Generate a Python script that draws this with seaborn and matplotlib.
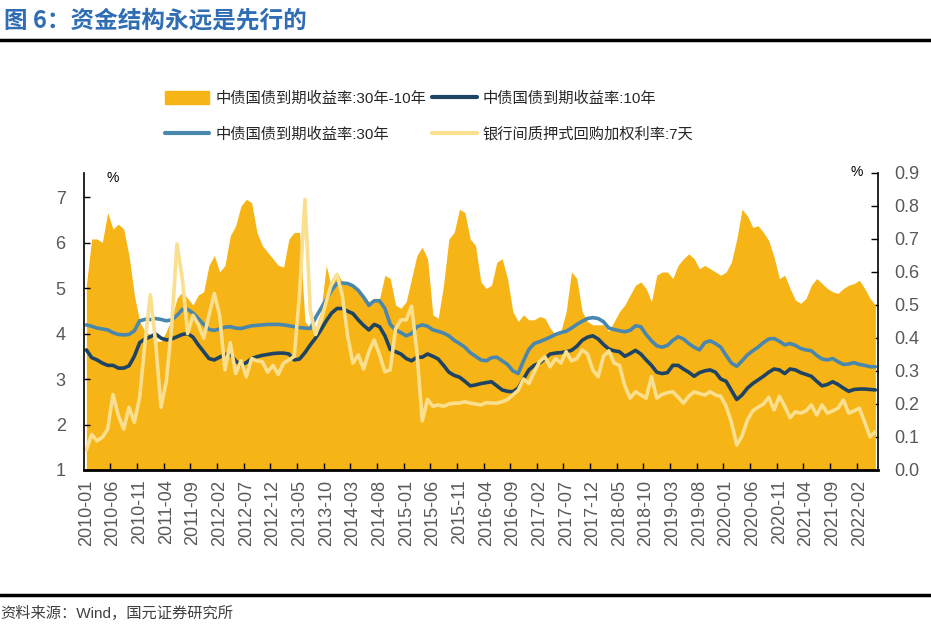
import numpy as np
import pandas as pd
import seaborn as sns
import matplotlib.pyplot as plt
from matplotlib.patches import Patch
from matplotlib.lines import Line2D
from matplotlib.ticker import FormatStrFormatter

# monthly data 2010-01 .. 2022-05
months = pd.date_range('2010-01-01', periods=149, freq='MS').strftime('%Y-%m').tolist()

spread_30_10 = [
    0.56, 0.70, 0.70, 0.69, 0.78, 0.73, 0.745, 0.73, 0.65, 0.53,
    0.45, 0.42, 0.41, 0.39, 0.39, 0.42, 0.46, 0.52, 0.54, 0.52,
    0.50, 0.53, 0.54, 0.62, 0.65, 0.60, 0.62, 0.71, 0.74, 0.80,
    0.82, 0.81, 0.72, 0.68, 0.66, 0.64, 0.62, 0.615, 0.70, 0.72,
    0.72, 0.45, 0.43, 0.43, 0.48, 0.62, 0.55, 0.60, 0.57, 0.56,
    0.56, 0.54, 0.53, 0.51, 0.52, 0.52, 0.59, 0.58, 0.50, 0.49,
    0.51, 0.58, 0.65, 0.675, 0.64, 0.47, 0.46, 0.56, 0.70, 0.72,
    0.79, 0.78, 0.70, 0.68, 0.57, 0.55, 0.56, 0.63, 0.64, 0.58,
    0.48, 0.45, 0.47, 0.455, 0.455, 0.465, 0.46, 0.43, 0.41, 0.42,
    0.48, 0.60, 0.58, 0.48, 0.45, 0.44, 0.44, 0.44, 0.42, 0.45,
    0.48, 0.50, 0.53, 0.56, 0.57, 0.55, 0.51, 0.59, 0.60, 0.60,
    0.58, 0.62, 0.64, 0.655, 0.64, 0.61, 0.62, 0.61, 0.60, 0.59,
    0.60, 0.63, 0.70, 0.79, 0.77, 0.735, 0.74, 0.72, 0.695, 0.645,
    0.58, 0.59, 0.55, 0.515, 0.505, 0.52, 0.56, 0.58, 0.565, 0.55,
    0.54, 0.535, 0.55, 0.56, 0.565, 0.575, 0.55, 0.52, 0.50,
]

yield_10y = [
    3.64, 3.47, 3.42, 3.35, 3.30, 3.30, 3.24, 3.24, 3.29, 3.50,
    3.80, 3.88, 3.93, 3.99, 3.90, 3.86, 3.88, 3.93, 3.98, 4.00,
    3.92, 3.75, 3.60, 3.45, 3.42, 3.48, 3.54, 3.55, 3.40, 3.30,
    3.36, 3.45, 3.49, 3.52, 3.54, 3.56, 3.57, 3.57, 3.55, 3.42,
    3.44, 3.58, 3.75, 3.90, 4.08, 4.28, 4.45, 4.55, 4.55, 4.49,
    4.44, 4.30, 4.18, 4.08, 4.20, 4.15, 3.95, 3.65, 3.60, 3.55,
    3.45, 3.40, 3.48, 3.48, 3.55, 3.50, 3.44, 3.30, 3.15, 3.08,
    3.04, 2.95, 2.85, 2.87, 2.90, 2.92, 2.94, 2.85, 2.76, 2.73,
    2.72, 2.80, 3.00, 3.20, 3.30, 3.35, 3.45, 3.55, 3.57, 3.58,
    3.60, 3.63, 3.72, 3.85, 3.92, 3.95, 3.88, 3.76, 3.66, 3.62,
    3.60, 3.50, 3.56, 3.63, 3.55, 3.42, 3.30, 3.15, 3.12, 3.14,
    3.30, 3.30, 3.22, 3.15, 3.06, 3.14, 3.18, 3.20, 3.15, 3.00,
    2.95, 2.75, 2.55, 2.65, 2.80, 2.90, 2.98, 3.06, 3.15, 3.22,
    3.20, 3.12, 3.22, 3.20, 3.14, 3.10, 3.06, 2.95, 2.85, 2.88,
    2.94, 2.88, 2.80, 2.73, 2.77, 2.78, 2.78, 2.77, 2.76,
]

yield_30y = [
    4.19, 4.16, 4.12, 4.10, 4.08, 4.02, 3.98, 3.97, 3.98, 4.06,
    4.28, 4.31, 4.31, 4.33, 4.31, 4.28, 4.30, 4.40, 4.53, 4.53,
    4.45, 4.33, 4.20, 4.09, 4.07, 4.10, 4.14, 4.15, 4.12, 4.11,
    4.14, 4.17, 4.18, 4.19, 4.20, 4.20, 4.20, 4.19, 4.17, 4.15,
    4.13, 4.12, 4.11, 4.35, 4.55, 4.75, 4.95, 5.10, 5.11, 5.10,
    5.05, 4.95, 4.80, 4.62, 4.72, 4.72, 4.55, 4.20, 4.08, 4.02,
    3.95, 4.00, 4.15, 4.19, 4.16, 4.08, 4.05, 4.01, 3.95, 3.85,
    3.78, 3.70, 3.58, 3.50, 3.42, 3.40, 3.47, 3.48, 3.40, 3.32,
    3.18, 3.12, 3.40, 3.65, 3.78, 3.82, 3.87, 3.92, 3.98, 4.02,
    4.05, 4.12, 4.20, 4.27, 4.33, 4.35, 4.33, 4.26, 4.12, 4.09,
    4.06, 4.04, 4.07, 4.17, 4.15, 3.98, 3.84, 3.73, 3.70, 3.74,
    3.85, 3.93, 3.88, 3.78, 3.70, 3.64, 3.80, 3.84, 3.78, 3.70,
    3.52, 3.35, 3.28, 3.40, 3.53, 3.62, 3.70, 3.80, 3.88, 3.89,
    3.83, 3.75, 3.78, 3.74, 3.67, 3.64, 3.62, 3.52, 3.44, 3.42,
    3.45, 3.38, 3.32, 3.33, 3.36, 3.32, 3.30, 3.27, 3.27,
]

repo_7d = [
    1.44, 1.78, 1.64, 1.72, 1.90, 2.66, 2.20, 1.90, 2.38, 2.05,
    2.60, 3.80, 4.85, 3.80, 2.38, 2.95, 4.15, 5.97, 5.20, 4.00,
    4.40, 4.20, 3.90, 4.40, 4.88, 4.40, 3.20, 3.80, 3.12, 3.40,
    3.05, 3.45, 3.40, 3.38, 3.15, 3.30, 3.10, 3.35, 3.42, 3.50,
    4.90, 6.95, 4.50, 3.98, 4.28, 4.70, 5.10, 5.30, 4.85, 3.95,
    3.35, 3.53, 3.22, 3.60, 3.86, 3.53, 3.16, 3.20, 4.10, 4.30,
    4.30, 4.60, 3.60, 2.08, 2.55, 2.40, 2.43, 2.40, 2.45, 2.47,
    2.47, 2.50, 2.47, 2.45, 2.43, 2.48, 2.47, 2.47, 2.50, 2.55,
    2.65, 2.75, 3.00, 2.90, 3.15, 3.38, 3.49, 3.27, 3.45, 3.35,
    3.60, 3.40, 3.45, 3.64, 3.55, 3.20, 3.05, 3.50, 3.62, 3.35,
    3.30, 2.85, 2.58, 2.72, 2.65, 2.58, 3.05, 2.58, 2.66, 2.70,
    2.72, 2.60, 2.47, 2.62, 2.72, 2.68, 2.65, 2.72, 2.65, 2.62,
    2.40, 2.05, 1.55, 1.75, 2.10, 2.30, 2.38, 2.45, 2.60, 2.32,
    2.62, 2.40, 2.15, 2.28, 2.25, 2.30, 2.43, 2.21, 2.43, 2.25,
    2.30, 2.36, 2.54, 2.25, 2.30, 2.36, 2.05, 1.73, 1.84,
]

labels = ['中债国债到期收益率:30年-10年', '中债国债到期收益率:10年',
          '中债国债到期收益率:30年', '银行间质押式回购加权利率:7天']
c_area = '#F6B416'
c_10y = '#1F4463'
c_30y = '#4A87AE'
c_repo = '#F9DF8E'

sns.set_theme(style='white')
plt.rcParams['font.family'] = ['Liberation Sans', 'Noto Sans CJK SC', 'DejaVu Sans']

df = pd.DataFrame({'month': months, 'spread': spread_30_10, 'y10': yield_10y,
                   'y30': yield_30y, 'repo': repo_7d})
df['x'] = np.arange(len(df))

fig = plt.figure(figsize=(9.31, 6.29), dpi=100)
ax = fig.add_axes([0.0899, 0.2528, 0.8532, 0.4722])
ax2 = ax.twinx()

# spread on the right axis, behind the lines
ax2.fill_between(df.x, 0, df.spread, color=c_area, lw=0)
ax2.set_ylim(0, 0.9)
ax2.set_yticks(np.arange(0, 0.91, 0.1))
ax2.yaxis.set_major_formatter(FormatStrFormatter('%.1f'))

sns.lineplot(data=df, x='x', y='y10', ax=ax, color=c_10y, lw=2.6)
sns.lineplot(data=df, x='x', y='y30', ax=ax, color=c_30y, lw=2.6)
sns.lineplot(data=df, x='x', y='repo', ax=ax, color=c_repo, lw=2.6)

ax.set_zorder(ax2.get_zorder() + 1)
ax.patch.set_visible(False)

ax.set_xlim(-0.5, len(df) - 0.5)
ax.set_ylim(1, 7.53)
ax.set_yticks(range(1, 8))
ax.set_xlabel('')
ax.set_ylabel('')
ax2.set_ylabel('')

ax.set_xticks(df.x[::5])
ax.set_xticklabels(df.month[::5], rotation=90)
ax.set_xticks(np.arange(4.5, len(df) - 1, 5), minor=True)
ax.tick_params(axis='x', which='major', length=0, pad=7, labelsize=13, labelcolor='#595959')
ax.tick_params(axis='x', which='minor', direction='in', length=5, width=1, color='black', bottom=True)
ax.tick_params(axis='y', direction='in', length=4, width=1, color='black', left=True,
               labelsize=13, labelcolor='#595959', pad=13)
ax2.tick_params(axis='y', direction='in', length=5, width=1, color='black', right=True,
                labelsize=13, labelcolor='#595959', pad=12)

for s in ['top', 'right']:
    ax.spines[s].set_visible(False)
for s in ['top', 'left', 'bottom']:
    ax2.spines[s].set_visible(False)
ax.spines['left'].set_color('black')
ax.spines['left'].set_linewidth(1.2)
ax.spines['bottom'].set_color('black')
ax.spines['bottom'].set_linewidth(2)
ax2.spines['right'].set_color('black')
ax2.spines['right'].set_linewidth(1.2)

fig.text(113 / 931, 1 - 178 / 629, '%', fontsize=10, ha='center', va='center', color='black')
fig.text(857 / 931, 1 - 172 / 629, '%', fontsize=10, ha='center', va='center', color='black')

handles = [Patch(color=c_area), Line2D([], [], color=c_30y, lw=3),
           Line2D([], [], color=c_10y, lw=3), Line2D([], [], color=c_repo, lw=3)]
fig.legend(handles, [labels[0], labels[2], labels[1], labels[3]], ncol=2,
           loc='upper left', bbox_to_anchor=(165 / 931, 1 - 91 / 629),
           frameon=False, fontsize=11, handlelength=2.9, handleheight=0.9,
           labelspacing=1.4, columnspacing=0.4, handletextpad=0.4,
           borderpad=0, borderaxespad=0)

fig.text(0.004, 1 - 20 / 629, '图 6：资金结构永远是先行的', color='#2F6DB5', fontsize=17,
         fontweight='bold', va='center', family=['Noto Sans CJK SC', 'DejaVu Sans'])
fig.add_artist(Line2D([0, 1], [1 - 40 / 629] * 2, color='black', lw=2.5, transform=fig.transFigure))
fig.add_artist(Line2D([0, 1], [1 - 595 / 629] * 2, color='black', lw=2.5, transform=fig.transFigure))
fig.text(0.0, 1 - 613 / 629, '资料来源：Wind，国元证券研究所', fontsize=11, color='#404040', va='center')

fig.savefig('out.png', dpi=100)
